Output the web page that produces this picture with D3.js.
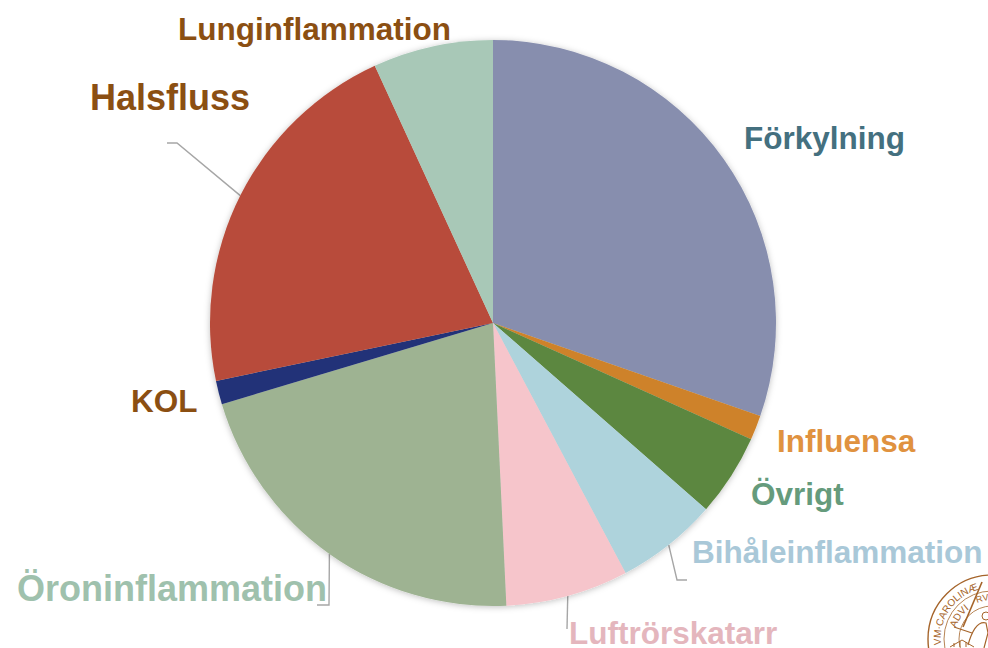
<!DOCTYPE html>
<head>
<meta charset="utf-8">
<script src="https://d3js.org/d3.v7.min.js"></script>
<style>
html, body { margin: 0; background: #fff; overflow: hidden; }
text { font-family: "Liberation Sans", Arial, sans-serif; font-weight: bold; }
</style>
</head>
<body>
<div id="chart"></div>
<script>
// share of cases per diagnosis (percent)
var categories = ["Förkylning", "Influensa", "Övrigt", "Bihåleinflammation", "Luftrörskatarr",
                  "Öroninflammation", "KOL", "Halsfluss", "Lunginflammation"];
var values = [30.3, 1.4, 4.7, 5.8, 7.0, 21.1, 1.35, 21.4, 6.85];

var sliceColors = ["#878eae", "#ce8229", "#5b873f", "#aed3dc", "#f6c5cb", "#9eb392", "#233378", "#b84c3a", "#a8c8b7"];
var textColors = ["#44707f", "#e0923f", "#659b7c", "#a9c8d8", "#e4b6bd", "#9fc1ad", "#8b4f12", "#8b4f12", "#8b4f12"];

// label placement: left edge, baseline, font size
var labelX = [744, 777, 751, 692, 569, 17, 131, 90, 178];
var labelY = [149, 452, 505, 563, 644, 601, 412, 110, 40];
var labelSize = [31.5, 31.5, 31.5, 31.5, 31.5, 36, 31.5, 36, 31.5];

var width = 988, height = 648;
var cx = 493, cy = 323, radius = 283;

var svg = d3.select("#chart").append("svg")
  .attr("width", width)
  .attr("height", height);

var defs = svg.append("defs");
var shadow = defs.append("filter").attr("id", "pieShadow")
  .attr("x", "-10%").attr("y", "-10%").attr("width", "120%").attr("height", "120%");
shadow.append("feDropShadow")
  .attr("dx", 0).attr("dy", 1)
  .attr("stdDeviation", 3)
  .attr("flood-color", "#000")
  .attr("flood-opacity", 0.25);

var pie = d3.pie().sort(null).value(function(d) { return d; });
var arc = d3.arc().innerRadius(0).outerRadius(radius);
var arcs = pie(values);

// leader lines start on the rim at the middle of the slice, then elbow towards the label
function rim(i) {
  var a = (arcs[i].startAngle + arcs[i].endAngle) / 2;
  return [cx + Math.sin(a) * radius, cy - Math.cos(a) * radius];
}
var leaders = [
  { slice: 7, rest: [[177, 143], [167, 143]] },
  { slice: 5, rest: [[329, 605], [317, 605]] },
  { slice: 3, rest: [[677, 580], [687, 580]] },
  { slice: 4, rest: [[567, 629]] }
];
var line = d3.line();
svg.append("g").selectAll("path")
  .data(leaders)
  .enter().append("path")
  .attr("d", function(d) { return line([rim(d.slice)].concat(d.rest)); })
  .attr("fill", "none")
  .attr("stroke", "#a6a6a6")
  .attr("stroke-width", 1.4);

var g = svg.append("g").attr("transform", "translate(" + cx + "," + cy + ")");

g.append("g").attr("filter", "url(#pieShadow)")
  .selectAll("path")
  .data(arcs)
  .enter().append("path")
  .attr("d", arc)
  .attr("fill", function(d, i) { return sliceColors[i]; });

svg.append("g").selectAll("text")
  .data(categories)
  .enter().append("text")
  .attr("x", function(d, i) { return labelX[i]; })
  .attr("y", function(d, i) { return labelY[i]; })
  .style("font-size", function(d, i) { return labelSize[i] + "px"; })
  .attr("fill", function(d, i) { return textColors[i]; })
  .text(function(d) { return d; });

// university seal, cut off by the corner of the slide
var sealColor = "#a5642a";
var seal = svg.append("g").attr("transform", "translate(992,639)");
seal.append("circle").attr("r", 64).attr("fill", "none").attr("stroke", sealColor).attr("stroke-width", 1.4);
seal.append("circle").attr("r", 48).attr("fill", "none").attr("stroke", sealColor).attr("stroke-width", 0.8);
seal.append("circle").attr("r", 33).attr("fill", "none").attr("stroke", sealColor).attr("stroke-width", 0.8);

defs.append("path").attr("id", "sealOuter").attr("d", "M -51 6 A 51 51 0 0 1 -14 -49");
defs.append("path").attr("id", "sealMiddle").attr("d", "M -36 -11 A 37 37 0 0 1 -16 -34");
defs.append("path").attr("id", "sealRight").attr("d", "M -15 -36 A 39 39 0 0 1 -2 -39");

seal.append("text").style("font-size", "10px").style("font-weight", "normal").attr("fill", sealColor)
  .append("textPath").attr("href", "#sealOuter").text("VM·CAROLINÆ");
seal.append("text").style("font-size", "10px").style("font-weight", "normal").attr("fill", sealColor)
  .append("textPath").attr("href", "#sealMiddle").text("ADVI");
seal.append("text").style("font-size", "9px").style("font-weight", "normal").attr("fill", sealColor)
  .append("textPath").attr("href", "#sealRight").text("RVS");

// sword and figure inside the seal
seal.append("path").attr("d", "M -29 -12 L -10 -57")
  .attr("stroke", sealColor).attr("stroke-width", 1.6).attr("fill", "none");
seal.append("path").attr("d", "M -38 -12 L -20 -6")
  .attr("stroke", sealColor).attr("stroke-width", 1.2).attr("fill", "none");
seal.append("path").attr("d", "M -24 6 C -20 -8 -14 -18 -6 -16 L -4 -6 L -8 9")
  .attr("fill", "none").attr("stroke", sealColor).attr("stroke-width", 1.2);
seal.append("circle").attr("cx", -6).attr("cy", -23).attr("r", 4)
  .attr("fill", "none").attr("stroke", sealColor).attr("stroke-width", 1);
seal.append("path").attr("d", "M -42 8 L -30 1 L -18 8 M -38 8 L -38 4 M -32 8 L -32 2 M -26 8 L -26 3")
  .attr("fill", "none").attr("stroke", sealColor).attr("stroke-width", 1);
</script>
</body>
